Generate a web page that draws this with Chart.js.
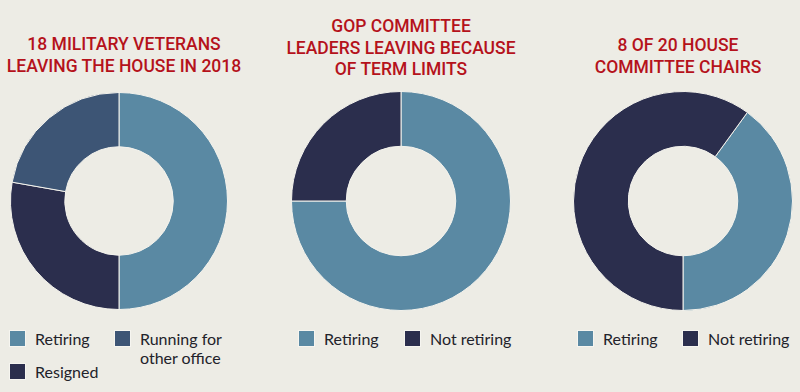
<!DOCTYPE html>
<html>
<head>
<meta charset="utf-8">
<script src="https://cdn.jsdelivr.net/npm/chart.js@4/dist/chart.umd.min.js"></script>
<style>
  html, body { margin: 0; padding: 0; }
  body {
    width: 800px; height: 392px; overflow: hidden; position: relative;
    background: #edece5;
  }
  .title {
    position: absolute; width: 280px; text-align: center;
    font-family: Roboto, "Noto Sans", sans-serif;
    font-weight: 500; font-size: 17.5px; line-height: 21.5px; color: #b5121b;
  }
  .ring { position: absolute; }
  .item {
    position: absolute; font-family: Lato, "Noto Sans", sans-serif;
    font-size: 16px; line-height: 19px; color: #22222a;
  }
  .box {
    position: absolute; width: 17px; height: 17px;
    border: 1px solid #f6f5f0; box-sizing: border-box;
  }
</style>
</head>
<body>
<div class="title" style="left:-16px; top:34px;">18 MILITARY VETERANS<br>LEAVING THE HOUSE IN 2018</div>
<div class="title" style="left:261px; top:16px;">GOP COMMITTEE<br>LEADERS LEAVING BECAUSE<br>OF TERM LIMITS</div>
<div class="title" style="left:538px; top:35px;">8 OF 20 HOUSE<br>COMMITTEE CHAIRS</div>

<div class="ring" style="left:10px; top:92px;"><canvas id="c1" width="218" height="218"></canvas></div>
<div class="ring" style="left:291px; top:91px;"><canvas id="c2" width="220" height="220"></canvas></div>
<div class="ring" style="left:573px; top:91px;"><canvas id="c3" width="220" height="220"></canvas></div>

<div id="legends"></div>

<script>
// datos
const veteranLabels = ['Retiring', 'Resigned', 'Running for other office'];
const veteranValues = [9, 5, 4];

const leaderLabels = ['Retiring', 'Not retiring'];
const leaderValues = [3, 1];

const chairLabels = ['Retiring', 'Not retiring'];
const chairValues = [8, 12];

const colors = {
  'Retiring': '#5a89a3',
  'Resigned': '#2b2e4d',
  'Running for other office': '#3d5575',
  'Not retiring': '#2b2e4d',
};

const makeDoughnut = (id, labels, values, rotation) => {
  const ctx = document.getElementById(id).getContext('2d');
  new Chart(ctx, {
    type: 'doughnut',
    data: {
      labels: labels,
      datasets: [{
        data: values,
        backgroundColor: labels.map(l => colors[l]),
        borderColor: '#f3f2ec',
        borderWidth: 1,
      }],
    },
    options: {
      responsive: false,
      animation: false,
      cutout: '50%',
      rotation: rotation,
      plugins: {
        legend: { display: false },
        tooltip: { enabled: false },
      },
    },
  });
};

makeDoughnut('c1', veteranLabels, veteranValues, 0);
makeDoughnut('c2', leaderLabels, leaderValues, 0);
makeDoughnut('c3', chairLabels, chairValues, 36);

// leyendas: [etiqueta, x de la caja, y de la caja, texto con salto]
const legendItems = [
  ['Retiring', 9, 330, 'Retiring'],
  ['Running for other office', 114, 330, 'Running for<br>other office'],
  ['Resigned', 9, 363, 'Resigned'],
  ['Retiring', 298, 330, 'Retiring'],
  ['Not retiring', 404, 330, 'Not retiring'],
  ['Retiring', 577, 330, 'Retiring'],
  ['Not retiring', 682, 330, 'Not retiring'],
];

const legendBox = document.getElementById('legends');
legendItems.forEach(([label, x, y, text]) => {
  const box = document.createElement('div');
  box.className = 'box';
  box.style.left = x + 'px';
  box.style.top = y + 'px';
  box.style.background = colors[label];
  legendBox.appendChild(box);

  const t = document.createElement('div');
  t.className = 'item';
  t.style.left = (x + 26) + 'px';
  t.style.top = (y - 1) + 'px';
  t.innerHTML = text;
  legendBox.appendChild(t);
});
</script>
</body>
</html>
